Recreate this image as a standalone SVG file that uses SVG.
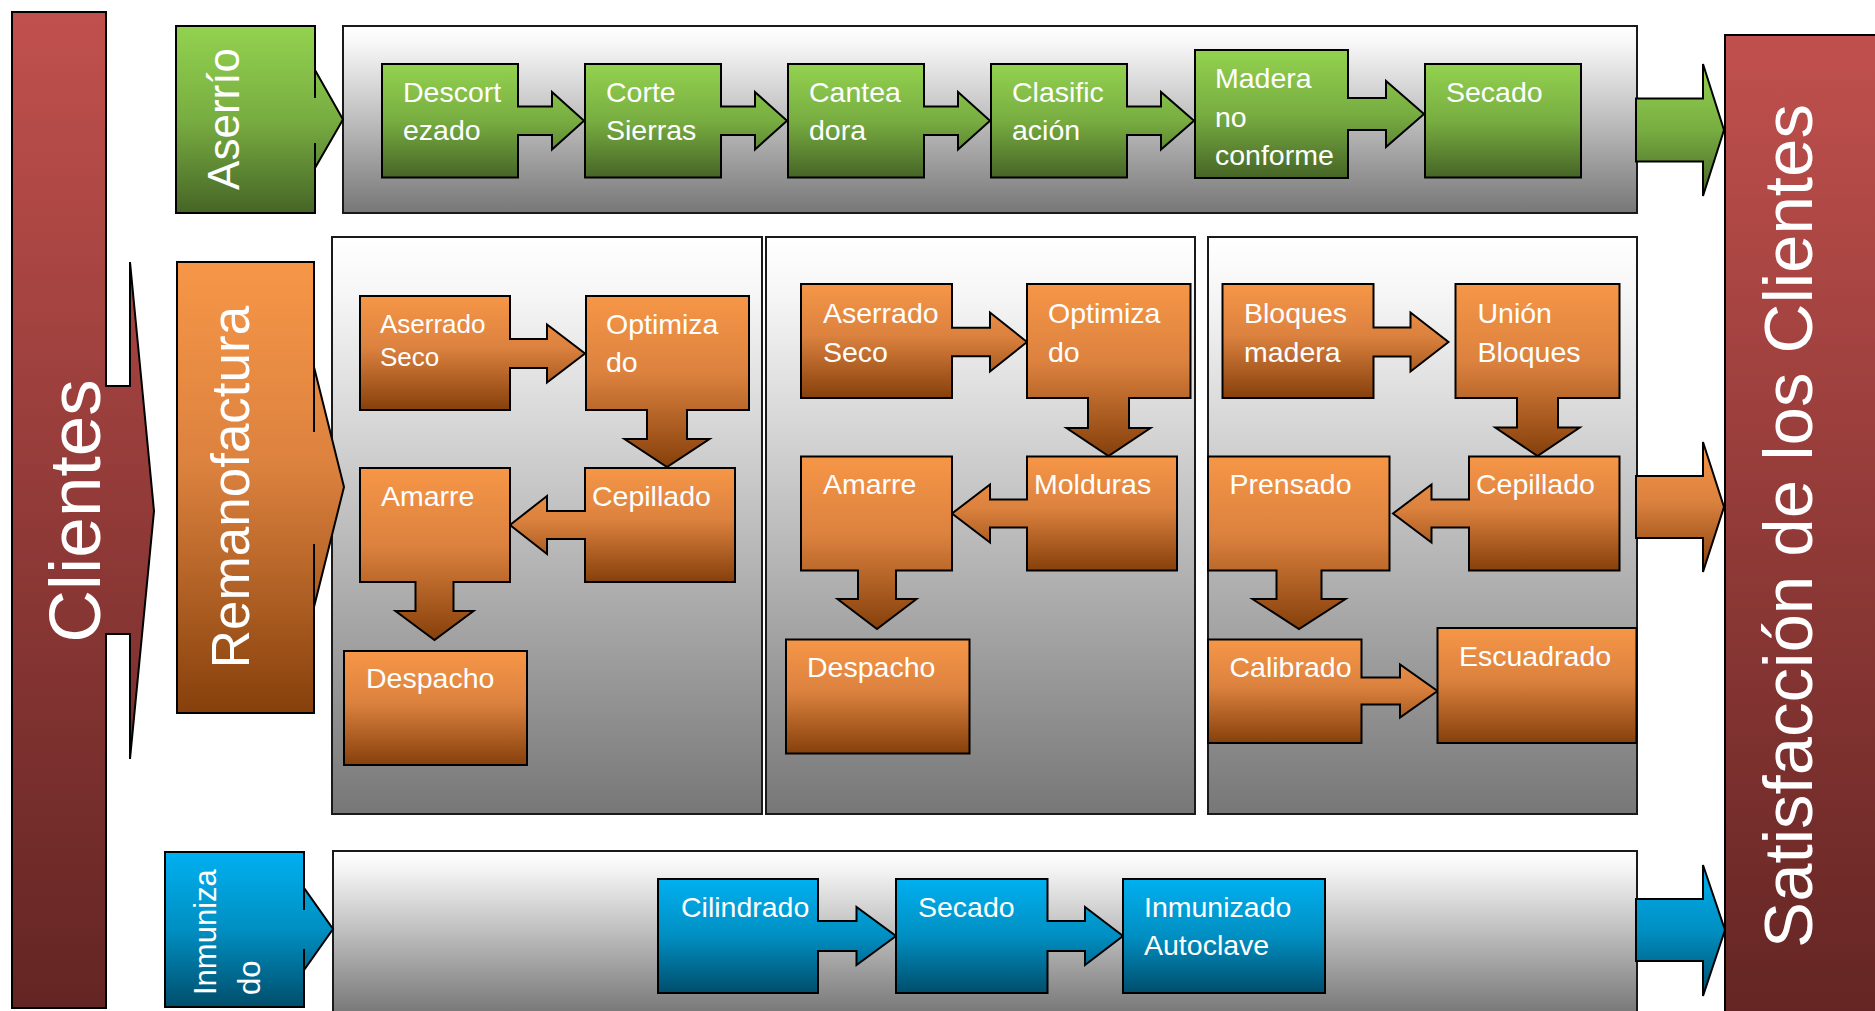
<svg xmlns="http://www.w3.org/2000/svg" width="1875" height="1011" viewBox="0 0 1875 1011">
<defs>
<linearGradient id="gG" x1="0" y1="0" x2="0" y2="1"><stop offset="0" stop-color="#93d24f"/><stop offset="0.5" stop-color="#78ad41"/><stop offset="1" stop-color="#466526"/></linearGradient>
<linearGradient id="gO" x1="0" y1="0" x2="0" y2="1"><stop offset="0" stop-color="#f69647"/><stop offset="0.45" stop-color="#dc823f"/><stop offset="1" stop-color="#86400b"/></linearGradient>
<linearGradient id="gB" x1="0" y1="0" x2="0" y2="1"><stop offset="0" stop-color="#00b0f0"/><stop offset="0.5" stop-color="#008fc2"/><stop offset="1" stop-color="#004e6c"/></linearGradient>
<linearGradient id="gR" x1="0" y1="0" x2="0" y2="1"><stop offset="0" stop-color="#c0504d"/><stop offset="1" stop-color="#632523"/></linearGradient>
<linearGradient id="gGr" x1="0" y1="0" x2="0" y2="1"><stop offset="0" stop-color="#ffffff"/><stop offset="0.1" stop-color="#f6f6f6"/><stop offset="1" stop-color="#777777"/></linearGradient>
</defs>
<style>
.s{stroke:#000;stroke-width:2;stroke-linejoin:miter}
.g{fill:url(#gG)}
.o{fill:url(#gO)}
.b{fill:url(#gB)}
.r{fill:url(#gR)}
.pn{fill:url(#gGr);stroke:#1a1a1a;stroke-width:2}
.t{font-family:"Liberation Sans",Arial,Helvetica,sans-serif;fill:#fff;font-size:28.5px}
.sm{font-size:26px}
</style>
<rect width="1875" height="1011" fill="#fff"/>

<g id="panels">
<rect class="pn" x="343" y="26" width="1294" height="187"/>
<rect class="pn" x="332" y="237" width="430" height="577"/>
<rect class="pn" x="766" y="237" width="429" height="577"/>
<rect class="pn" x="1208" y="237" width="429" height="577"/>
<rect class="pn" x="333" y="851" width="1304" height="163"/>
</g>

<g id="clientes">
<polygon class="s r" points="12,12 106,12 106,386 130,386 130,262 154,511 130,759 130,634 106,634 106,1008 12,1008"/>
<text class="t" text-anchor="middle" transform="translate(100,511) rotate(-90)" style="font-size:73px">Clientes</text>
</g>

<g id="satisfaccion">
<rect class="s r" x="1725" y="35" width="160" height="985"/>
<text class="t" text-anchor="middle" transform="translate(1812,526) rotate(-90)" style="font-size:69px">Satisfacción de los Clientes</text>
</g>

<g id="connectors">
<polygon class="s g" points="1636,98.5 1703,98.5 1703,64 1724,130 1703,196 1703,161.5 1636,161.5"/>
<polygon class="s o" points="1636,476 1703,476 1703,442 1724,507 1703,572 1703,538 1636,538"/>
<polygon class="s b" points="1636,899 1703,899 1703,865 1725,930 1703,996 1703,961 1636,961"/>
</g>

<g id="aserrio">
<polygon class="s g" points="176,26 315,26 315,98 315,70 343,119.5 315,168 315,143 315,213 176,213"/>
<text class="t" text-anchor="middle" transform="translate(239,119) rotate(-90)" style="font-size:44px">Aserrío</text>
</g>
<g id="remanofactura">
<polygon class="s o" points="177,262 314,262 314,432 314,367 344,487 314,607 314,544 314,713 177,713"/>
<text class="t" text-anchor="middle" transform="translate(249,487) rotate(-90)" style="font-size:53px">Remanofactura</text>
</g>
<g id="inmunizado">
<polygon class="s b" points="165,852 304,852 304,910 304,888 333,929 304,970 304,949 304,1007 165,1007"/>
<text class="t" transform="translate(216,995) rotate(-90)" style="font-size:31px">Inmuniza</text>
<text class="t" transform="translate(260,995) rotate(-90)" style="font-size:31px">do</text>
</g>

<g id="descortezado">
<polygon class="s g" points="382,64 518,64 518,106.5 552,106.5 552,92 584,120.75 552,149.5 552,135 518,135 518,177.5 382,177.5"/>
<text class="t" x="403" y="102">Descort</text><text class="t" x="403" y="140">ezado</text>
</g>
<g id="corte-sierras">
<polygon class="s g" points="585,64 721,64 721,106.5 755,106.5 755,92 787,120.75 755,149.5 755,135 721,135 721,177.5 585,177.5"/>
<text class="t" x="606" y="102">Corte</text><text class="t" x="606" y="140">Sierras</text>
</g>
<g id="canteadora">
<polygon class="s g" points="788,64 924,64 924,106.5 958,106.5 958,92 990,120.75 958,149.5 958,135 924,135 924,177.5 788,177.5"/>
<text class="t" x="809" y="102">Cantea</text><text class="t" x="809" y="140">dora</text>
</g>
<g id="clasificacion">
<polygon class="s g" points="991,64 1127,64 1127,106.5 1161,106.5 1161,92 1194,120.75 1161,149.5 1161,135 1127,135 1127,177.5 991,177.5"/>
<text class="t" x="1012" y="102">Clasific</text><text class="t" x="1012" y="140">ación</text>
</g>
<g id="madera-no-conforme">
<polygon class="s g" points="1195,50 1348,50 1348,98 1386,98 1386,81 1424,114 1386,147 1386,130 1348,130 1348,178 1195,178"/>
<text class="t" x="1215" y="88">Madera</text><text class="t" x="1215" y="127">no</text><text class="t" x="1215" y="165">conforme</text>
</g>
<g id="secado-1">
<rect class="s g" x="1425" y="64" width="156" height="113.5"/>
<text class="t" x="1446" y="102">Secado</text>
</g>

<g id="p1-aserrado-seco">
<polygon class="s o" points="360,296 510,296 510,339 547,339 547,324.5 585,353.5 547,382.5 547,368 510,368 510,410 360,410"/>
<text class="t sm" x="380" y="332.5">Aserrado</text><text class="t sm" x="380" y="366">Seco</text>
</g>
<g id="p1-optimizado">
<polygon class="s o" points="586,296 749,296 749,410 687,410 687,439 709.5,439 667,467 624.5,439 647,439 647,410 586,410"/>
<text class="t" x="606" y="334">Optimiza</text><text class="t" x="606" y="372">do</text>
</g>
<g id="p1-cepillado">
<polygon class="s o" points="585,468 735,468 735,582 585,582 585,539 547,539 547,554 510,525 547,496 547,511 585,511"/>
<text class="t" x="592" y="506">Cepillado</text>
</g>
<g id="p1-amarre">
<polygon class="s o" points="360,468 510,468 510,582 453.5,582 453.5,611 473.5,611 434.5,640 395.5,611 415.5,611 415.5,582 360,582"/>
<text class="t" x="381" y="506">Amarre</text>
</g>
<g id="p1-despacho">
<rect class="s o" x="344" y="651" width="183" height="114"/>
<text class="t" x="366" y="688">Despacho</text>
</g>

<g id="p2-aserrado-seco">
<polygon class="s o" points="801,284 952,284 952,327.75 990,327.75 990,312.5 1027,342 990,371.5 990,356.25 952,356.25 952,398 801,398"/>
<text class="t" x="823" y="323">Aserrado</text><text class="t" x="823" y="362">Seco</text>
</g>
<g id="p2-optimizado">
<polygon class="s o" points="1027,284 1190.5,284 1190.5,398 1129,398 1129,428 1150.5,428 1108.5,456 1066.5,428 1088,428 1088,398 1027,398"/>
<text class="t" x="1048" y="323">Optimiza</text><text class="t" x="1048" y="362">do</text>
</g>
<g id="p2-molduras">
<polygon class="s o" points="1027,456.5 1177,456.5 1177,570.5 1027,570.5 1027,527.5 990,527.5 990,542.5 952,513.5 990,484.5 990,499.5 1027,499.5"/>
<text class="t" x="1034" y="494">Molduras</text>
</g>
<g id="p2-amarre">
<polygon class="s o" points="801,456.5 952,456.5 952,570.5 896,570.5 896,599 916.5,599 877,629 837.5,599 858,599 858,570.5 801,570.5"/>
<text class="t" x="823" y="494">Amarre</text>
</g>
<g id="p2-despacho">
<rect class="s o" x="786" y="639.5" width="183.5" height="114"/>
<text class="t" x="807" y="677">Despacho</text>
</g>

<g id="p3-bloques-madera">
<polygon class="s o" points="1222.5,284 1373.5,284 1373.5,327.5 1410.5,327.5 1410.5,312.5 1448.5,342 1410.5,371.5 1410.5,356.5 1373.5,356.5 1373.5,398 1222.5,398"/>
<text class="t" x="1244" y="323">Bloques</text><text class="t" x="1244" y="362">madera</text>
</g>
<g id="p3-union-bloques">
<polygon class="s o" points="1455.5,284 1619.5,284 1619.5,398 1558,398 1558,427.5 1579.75,427.5 1537.5,456 1495.25,427.5 1517,427.5 1517,398 1455.5,398"/>
<text class="t" x="1477.5" y="323">Unión</text><text class="t" x="1477.5" y="362">Bloques</text>
</g>
<g id="p3-cepillado">
<polygon class="s o" points="1469,456.5 1619.5,456.5 1619.5,570.5 1469,570.5 1469,527.5 1431.5,527.5 1431.5,542.5 1393,513.5 1431.5,484.5 1431.5,499.5 1469,499.5"/>
<text class="t" x="1476" y="494">Cepillado</text>
</g>
<g id="p3-prensado">
<polygon class="s o" points="1208,456.5 1389.5,456.5 1389.5,570.5 1321.5,570.5 1321.5,599 1345.5,599 1299,629 1252.5,599 1276.5,599 1276.5,570.5 1208,570.5"/>
<text class="t" x="1229.5" y="494">Prensado</text>
</g>
<g id="p3-calibrado">
<polygon class="s o" points="1208,639.5 1361.5,639.5 1361.5,677.5 1400,677.5 1400,664.5 1437.5,691 1400,717.5 1400,704.5 1361.5,704.5 1361.5,743 1208,743"/>
<text class="t" x="1229.5" y="677">Calibrado</text>
</g>
<g id="p3-escuadrado">
<rect class="s o" x="1437.5" y="628" width="199" height="115"/>
<text class="t" x="1459" y="666">Escuadrado</text>
</g>

<g id="cilindrado">
<polygon class="s b" points="658,879 818,879 818,921 856.5,921 856.5,907 896,936 856.5,965 856.5,951 818,951 818,993 658,993"/>
<text class="t" x="681" y="917">Cilindrado</text>
</g>
<g id="secado-2">
<polygon class="s b" points="896,879 1047.5,879 1047.5,921 1085,921 1085,907 1123,936 1085,965 1085,951 1047.5,951 1047.5,993 896,993"/>
<text class="t" x="918" y="917">Secado</text>
</g>
<g id="inmunizado-autoclave">
<rect class="s b" x="1123" y="879" width="202" height="114"/>
<text class="t" x="1144" y="917">Inmunizado</text><text class="t" x="1144" y="955">Autoclave</text>
</g>
</svg>
